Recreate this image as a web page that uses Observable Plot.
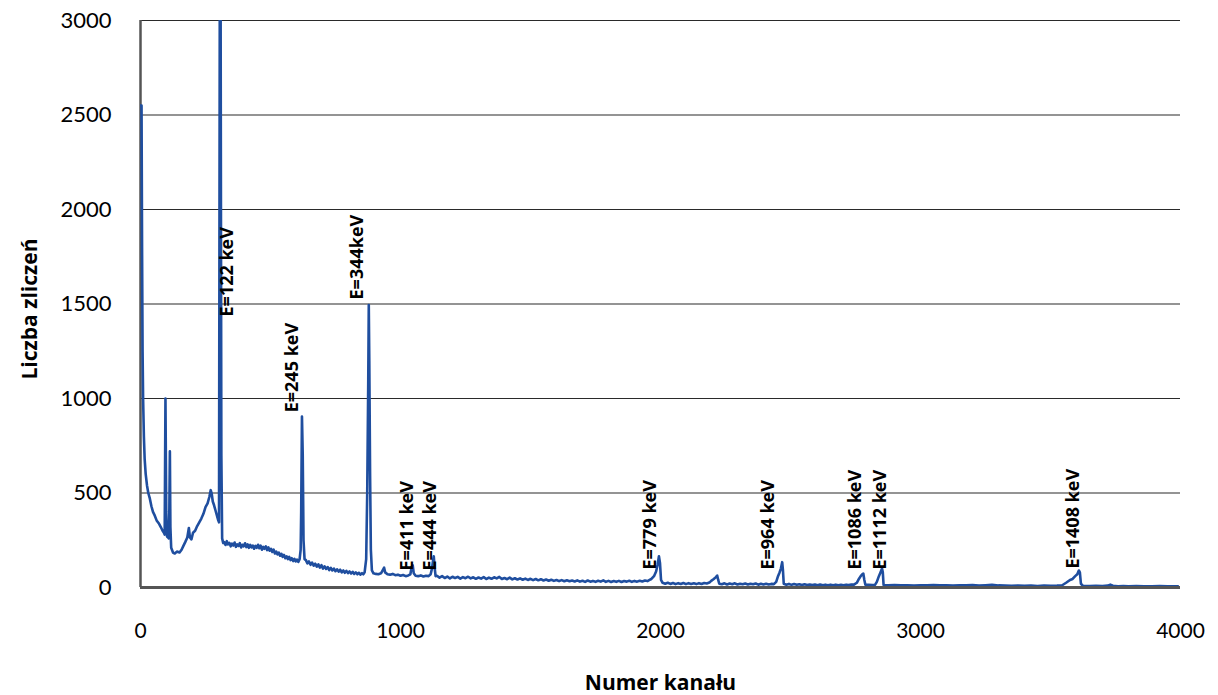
<!DOCTYPE html>
<html>
<head>
<meta charset="utf-8">
<script src="https://cdn.jsdelivr.net/npm/d3@7"></script>
<script src="https://cdn.jsdelivr.net/npm/@observablehq/plot@0.6"></script>
<style>
  html, body { margin: 0; padding: 0; background: #fff; }
  #chart { width: 1218px; height: 695px; }
</style>
</head>
<body>
<div id="chart"></div>
<script>
// Spectrum points [channel, count]
const spectrumPoints = [
  [0,2550],[4,2550],[6,1800],[8,1250],[10,1000],[13,800],[16,680],[20,600],[25,540],[30,500],
  [36,470],[42,430],[48,400],[55,380],[62,355],[70,340],[78,320],[85,300],[90,290],[93,280],
  [96,1000],[99,400],[102,270],[106,265],[109,260],[111,420],[113,720],[115,320],[118,210],[125,185],
  [132,180],[140,190],[150,185],[158,200],[165,220],[172,240],[180,265],[186,315],[190,265],[196,255],
  [202,290],[210,300],[218,325],[226,345],[234,365],[242,390],[250,425],[258,445],[265,480],[270,515],
  [274,495],[278,455],[283,435],[288,410],[293,385],[298,360],[302,345],[305,3200],[308,3200],[311,700],
  [314,260],[318,235],
  [322,240],[327,225],[332,245],[337,228],[342,236],[347,218],[352,232],[357,222],[362,238],[367,215],
  [372,228],[377,220],[382,235],[387,212],[392,226],[397,218],[402,234],[407,214],[412,228],[417,210],
  [422,225],[427,212],[432,222],[437,205],[442,220],[447,210],[452,226],[457,208],[462,222],[467,200],
  [472,215],[477,205],[482,218],[487,198],[492,212],[497,195],[502,205],[507,188],[512,200],[517,180],
  [522,190],[527,175],[532,185],[537,168],[542,178],[547,162],[552,172],[557,155],[562,165],[567,150],
  [572,162],[577,145],[582,155],[587,140],[592,152],[597,138],[602,148],[607,135],[612,150],[616,200],
  [618,400],[621,905],[624,700],[627,250],[631,150],
  [636,145],[642,128],[648,138],[654,120],[660,132],[666,115],[672,126],[678,110],[684,122],[690,105],
  [696,118],[702,100],[708,112],[714,98],[720,108],[726,92],[732,104],[738,90],[744,100],[750,86],
  [756,96],[762,84],[768,94],[774,80],[780,90],[786,78],[792,88],[798,76],[804,85],[810,74],
  [816,83],[822,72],[828,80],[834,70],[840,78],[846,68],[852,76],[857,70],[862,80],
  [868,150],[872,500],[876,1100],[878,1495],[880,1200],[883,600],[886,200],[890,90],[896,75],[905,72],
  [915,70],[925,75],[933,95],[937,105],[941,80],[950,70],[960,68],[970,72],[980,65],[990,68],
  [1000,62],[1010,66],[1020,60],[1030,64],[1038,70],[1043,110],[1047,118],[1051,75],[1058,62],[1068,60],
  [1078,64],[1088,58],[1098,62],[1108,60],[1116,70],[1121,100],[1125,140],[1128,165],[1131,110],[1135,60],
  [1140,62],[1150,52],[1160,60],[1170,50],[1180,58],[1190,48],[1200,57],[1210,50],[1220,56],[1230,47],
  [1240,55],[1250,49],[1260,57],[1270,48],[1280,54],[1290,46],[1300,53],[1310,47],[1320,55],[1330,45],
  [1340,52],[1350,46],[1360,54],[1370,48],[1380,56],[1390,45],[1400,50],[1410,44],[1420,52],[1430,43],
  [1440,49],[1450,42],[1460,48],[1470,41],[1480,47],[1490,40],[1500,46],[1510,39],[1520,45],[1530,38],
  [1540,44],[1550,37],[1560,42],[1570,36],[1580,41],[1590,35],[1600,40],[1610,34],[1620,39],[1630,33],
  [1640,38],[1650,33],[1660,37],[1670,32],[1680,38],[1690,31],[1700,36],[1710,30],[1720,37],[1730,31],
  [1740,35],[1750,30],[1760,36],[1770,31],[1780,38],[1790,30],[1800,35],[1810,29],[1820,34],[1830,30],
  [1840,35],[1850,29],[1860,34],[1870,31],[1880,36],[1890,30],[1900,35],[1910,31],[1920,36],[1930,32],
  [1940,37],[1950,34],[1958,40],[1965,45],[1975,60],[1983,85],[1989,120],[1994,165],[1998,130],[2002,40],
  [2008,25],[2018,20],[2028,25],[2038,19],[2048,24],[2058,18],[2068,23],[2078,19],[2088,24],[2098,18],
  [2108,23],[2118,19],[2128,22],[2138,18],[2148,23],[2158,19],[2168,24],[2178,21],[2188,26],[2195,35],
  [2205,45],[2213,55],[2218,63],[2222,40],[2226,20],[2236,17],[2246,22],[2256,16],[2266,21],[2276,17],
  [2286,22],[2296,16],[2306,20],[2316,17],[2326,21],[2336,16],[2346,20],[2356,17],[2366,21],[2376,15],
  [2386,20],[2396,16],[2406,20],[2416,16],[2426,19],[2436,18],[2445,30],[2452,60],[2458,80],[2463,100],
  [2468,134],[2471,90],[2474,20],[2484,15],[2494,19],[2504,14],[2514,18],[2524,14],[2534,17],[2544,13],
  [2554,17],[2564,13],[2574,16],[2584,13],[2594,16],[2604,12],[2614,16],[2624,12],[2634,15],[2644,12],
  [2654,15],[2664,12],[2674,15],[2684,12],[2694,14],[2704,12],[2714,15],[2724,13],[2734,16],[2744,15],
  [2755,25],[2763,45],[2770,60],[2776,70],[2780,74],[2784,40],[2788,15],[2800,14],[2815,13],[2825,14],
  [2832,30],[2840,60],[2846,80],[2852,100],[2855,80],[2858,13],[2875,12],[2900,13],[2925,11],[2950,12],
  [2975,10],[3000,12],[3025,11],[3050,13],[3075,11],[3100,12],[3125,10],[3150,12],[3175,11],[3200,13],
  [3225,10],[3250,12],[3275,14],[3300,11],[3325,10],[3350,9],[3375,10],[3400,9],[3425,10],[3450,8],
  [3475,10],[3500,9],[3525,10],[3545,12],[3560,25],[3575,40],[3585,45],[3595,60],[3603,70],[3609,90],
  [3613,80],[3617,20],[3625,9],[3650,8],[3675,9],[3700,8],[3720,10],[3730,15],[3740,9],[3760,7],
  [3780,8],[3800,7],[3830,8],[3860,7],[3890,7],[3920,8],[3950,7],[3990,7]
];

// Peak annotations
const peakLabels   = ["E=122 keV", "E=245 keV", "E=344keV", "E=411 keV", "E=444 keV", "E=779 keV", "E=964 keV", "E=1086 keV", "E=1112 keV", "E=1408 keV"];
const peakChannels = [335, 585, 833, 1026, 1115, 1962, 2413, 2750, 2846, 3588];
const peakCounts   = [1434, 927, 1524, 90, 90, 95, 95, 95, 95, 100];

const yTicks = [0, 500, 1000, 1500, 2000, 2500, 3000];
const xTicks = [0, 1000, 2000, 3000, 4000];

const spectrum = spectrumPoints.map(([c, n]) => ({channel: c, count: n}));
const labels = peakLabels.map((t, i) => ({text: t, channel: peakChannels[i], count: peakCounts[i]}));

const svg = Plot.plot({
  width: 1218,
  height: 695,
  marginLeft: 140,
  marginRight: 38,
  marginTop: 20,
  marginBottom: 108,
  style: {fontFamily: "Lato, sans-serif", fontSize: "22px", color: "#000", background: "#fff"},
  x: {domain: [0, 4000], ticks: xTicks, tickSize: 0, tickPadding: 36, label: null, tickFormat: d => String(d)},
  y: {domain: [0, 3000], ticks: yTicks, tickSize: 0, tickPadding: 29, label: null, tickFormat: d => String(d)},
  marks: [
    Plot.ruleY(yTicks, {stroke: "#2a2a2a", strokeWidth: 1.2}),
    Plot.ruleX([0], {stroke: "#555", strokeWidth: 2.5}),
    Plot.line(spectrum, {x: "channel", y: "count", stroke: "#1f4e9f", strokeWidth: 2.6, strokeLinejoin: "round", clip: true}),
    Plot.ruleY([0], {stroke: "#555", strokeWidth: 3}),
    Plot.text(labels, {x: "channel", y: "count", text: "text", rotate: -90, textAnchor: "start",
      fontFamily: "Open Sans, sans-serif", fontWeight: "bold", fontSize: 18, fill: "#000"}),
    Plot.text(["Numer kanału"], {frameAnchor: "bottom", textAnchor: "middle", lineAnchor: "middle", dy: 96,
      fontFamily: "Open Sans, sans-serif", fontWeight: "bold", fontSize: 21, fill: "#000"}),
    Plot.text(["Liczba zliczeń"], {frameAnchor: "left", textAnchor: "middle", lineAnchor: "middle", dx: -110, dy: 5,
      rotate: -90, fontFamily: "Open Sans, sans-serif", fontWeight: "bold", fontSize: 21, fill: "#000"})
  ]
});

svg.querySelectorAll('[aria-label^="x-axis"] text').forEach(t => { t.setAttribute("font-size", "21"); });
svg.querySelectorAll('[aria-label^="y-axis"] text').forEach(t => { t.setAttribute("font-size", "22"); });

document.getElementById("chart").appendChild(svg);
</script>
</body>
</html>
